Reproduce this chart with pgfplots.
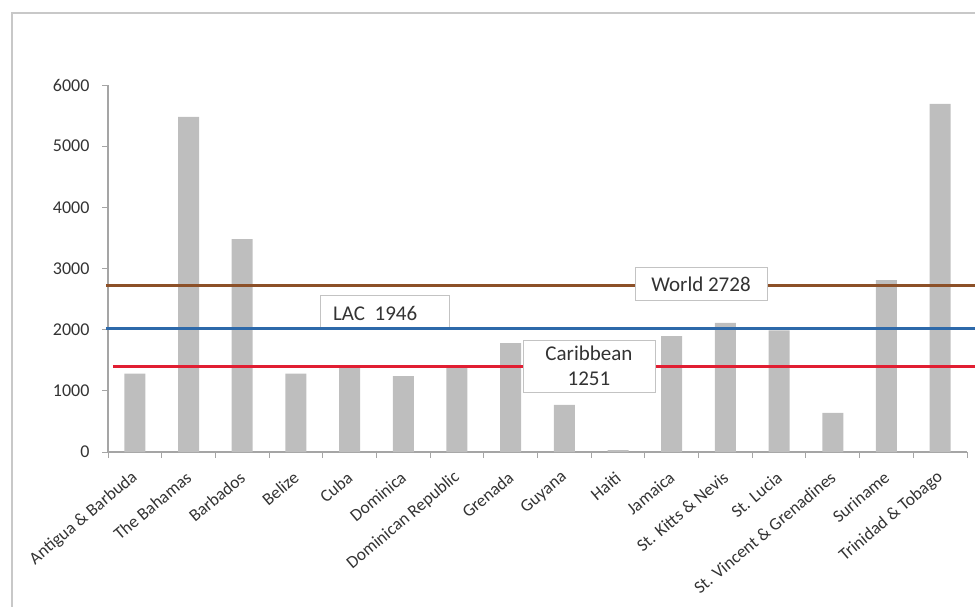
\documentclass[border=0pt]{standalone}
\usepackage{pgfplots}
\pgfplotsset{compat=1.18}
\usepackage{fontspec}
\setmainfont{Carlito}

\definecolor{axisgray}{RGB}{165,165,165}
\definecolor{barg}{RGB}{190,190,190}
\definecolor{framegray}{RGB}{200,200,200}
\definecolor{boxgray}{RGB}{195,195,195}
\definecolor{worldbrown}{RGB}{140,80,40}
\definecolor{lacblue}{RGB}{45,105,170}
\definecolor{carred}{RGB}{225,30,50}

\begin{document}
\begin{tikzpicture}
\useasboundingbox (0pt,0pt) rectangle (975pt,606pt);
\clip (0pt,0pt) rectangle (975pt,606pt);
% outer chart frame (right and bottom edges are cut off)
\draw[framegray, line width=1.5pt] (12pt,-20pt) |- (1000pt,593pt);

\begin{axis}[
    at={(108pt,154pt)}, anchor=south west,
    scale only axis, width=859pt, height=367pt,
    xmin=0, xmax=16, ymin=0, ymax=6000,
    axis lines*=left,
    axis line style={draw=axisgray, line width=1.2pt},
    clip=false,
    tick align=outside,
    major tick length=6pt,
    tick style={draw=axisgray, line width=1pt},
    ytick={0,1000,...,6000},
    yticklabel style={font=\fontsize{18}{20}\selectfont, text=black!80, xshift=-9pt},
    /pgf/number format/assume math mode=true,
    /pgf/number format/1000 sep={},
    xtick={0,1,...,16},
    xticklabels={},
    extra x ticks={0.5,1.5,...,15.5},
    extra x tick labels={Antigua \& Barbuda, The Bahamas, Barbados, Belize, Cuba, Dominica,
      Dominican Republic, Grenada, Guyana, Haiti, Jamaica, St. Kitts \& Nevis, St. Lucia,
      St. Vincent \& Grenadines, Suriname, Trinidad \& Tobago},
    extra x tick style={major tick length=0pt,
      tick label style={font=\fontsize{17.5}{20}\selectfont, text=black!80,
        xshift=3pt, yshift=-21pt, rotate=40, anchor=east}},
]
% bars
\addplot[ybar, bar width=21pt, fill=barg, draw=none] coordinates {
    (0.5,1280) (1.5,5480) (2.5,3480) (3.5,1280) (4.5,1380) (5.5,1240)
    (6.5,1370) (7.5,1780) (8.5,770) (9.5,30) (10.5,1895) (11.5,2110)
    (12.5,1990) (13.5,640) (14.5,2810) (15.5,5690)
};

% LAC label box sits under the blue line
\draw[boxgray, line width=0.8pt, fill=white] (3.949,2011) rectangle (6.352,2567);
\node[anchor=west, inner sep=0pt, font=\fontsize{21}{23}\selectfont, text=black!80]
    at (4.19,2272) {LAC\ \ 1946};

% reference lines
\addplot[worldbrown, line width=3pt] coordinates {(-0.04,2720) (16.3,2720)};
\addplot[lacblue, line width=3pt] coordinates {(-0.04,2025) (16.3,2025)};
\addplot[carred, line width=3pt] coordinates {(0.09,1405) (16.3,1405)};

% World and Caribbean label boxes on top of the lines
\draw[boxgray, line width=0.8pt, fill=white] (9.816,2485) rectangle (12.275,3025);
\node[inner sep=0pt, font=\fontsize{21}{23}\selectfont, text=black!80]
    at (11.045,2747) {World 2728};
\draw[boxgray, line width=0.8pt, fill=white] (7.730,981) rectangle (10.189,1831);
\node[inner sep=0pt, align=center, font=\fontsize{21}{25}\selectfont, text=black!80]
    at (8.959,1406) {Caribbean\\1251};
\end{axis}
\end{tikzpicture}
\end{document}
